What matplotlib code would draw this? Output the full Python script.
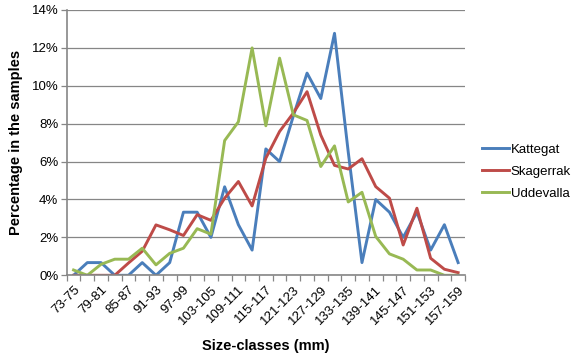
import matplotlib
matplotlib.use("Agg")
import matplotlib.pyplot as plt
import numpy as np

categories = ["73-75", "76-78", "79-81", "82-84", "85-87", "88-90", "91-93", "94-96",
              "97-99", "100-102", "103-105", "106-108", "109-111", "112-114", "115-117",
              "118-120", "121-123", "124-126", "127-129", "130-132", "133-135", "136-138",
              "139-141", "142-144", "145-147", "148-150", "151-153", "154-156", "157-159"]

kattegat = [0.0, 0.67, 0.67, 0.0, 0.0, 0.67, 0.0, 0.67, 3.33, 3.33, 2.0, 4.67, 2.67, 1.33,
            6.67, 6.0, 8.4, 10.67, 9.33, 12.77, 6.5, 0.67, 4.0, 3.33, 2.0, 3.33, 1.33, 2.67, 0.67]
skagerrak = [0.0, 0.0, 0.0, 0.0, 0.65, 1.27, 2.66, 2.4, 2.1, 3.2, 2.9, 4.07, 4.95, 3.66,
             6.18, 7.59, 8.56, 9.69, 7.4, 5.8, 5.61, 6.15, 4.68, 4.07, 1.6, 3.54, 0.9, 0.32, 0.14]
uddevalla = [0.28, 0.0, 0.58, 0.85, 0.85, 1.43, 0.55, 1.16, 1.43, 2.46, 2.17, 7.11, 8.1, 12.0,
             7.89, 11.46, 8.47, 8.17, 5.74, 6.83, 3.87, 4.38, 2.05, 1.13, 0.85, 0.28, 0.28, 0.0, 0.0]

series = [("Kattegat", kattegat, "#4A7EBB"),
          ("Skagerrak", skagerrak, "#BE4B48"),
          ("Uddevalla", uddevalla, "#98B954")]

plt.rcParams['font.family'] = ['Liberation Sans', 'DejaVu Sans']

fig = plt.figure(figsize=(5.73, 3.61), dpi=100)
ax = fig.add_axes([0.1164, 0.2374, 0.8115 - 0.1164, 0.9723 - 0.2374])

x = np.arange(len(categories))
for name, vals, col in series:
    ax.plot(x, vals, color=col, lw=2.1, label=name, solid_joinstyle='round')

grid_col = "#868686"
ax.set_xlim(-0.5, len(categories) - 0.5)
ax.set_ylim(0, 14)
ax.set_yticks(np.arange(0, 15, 2))
ax.set_yticklabels([f"{v}%" for v in range(0, 15, 2)], fontsize=9.5)
ax.yaxis.grid(True, color=grid_col, lw=0.9)
ax.set_axisbelow(True)

ax.set_xticks(x[::2])
ax.set_xticklabels(categories[::2], rotation=45, ha='right', rotation_mode='anchor', fontsize=9.5)
ax.set_xticks(np.arange(-0.5, len(categories), 1), minor=True)
ax.tick_params(axis='x', which='major', length=0, pad=6)
ax.tick_params(axis='x', which='minor', length=4, color=grid_col, width=0.9)
ax.tick_params(axis='y', length=4, color=grid_col, width=0.9, pad=2)

for s in ['top', 'right']:
    ax.spines[s].set_visible(False)
for s in ['left', 'bottom']:
    ax.spines[s].set_color(grid_col)
    ax.spines[s].set_linewidth(1.2)

ax.set_ylabel("Percentage in the samples", fontsize=10.5, fontweight='bold', labelpad=6)
ax.set_xlabel("Size-classes (mm)", fontsize=10.5, fontweight='bold', labelpad=9)

leg = ax.legend(loc='center left', bbox_to_anchor=(1.03, 0.39), frameon=False, fontsize=9.5,
                handlelength=2.0, handletextpad=0.15, labelspacing=0.75, borderaxespad=0)

fig.savefig("out.png", dpi=100)
